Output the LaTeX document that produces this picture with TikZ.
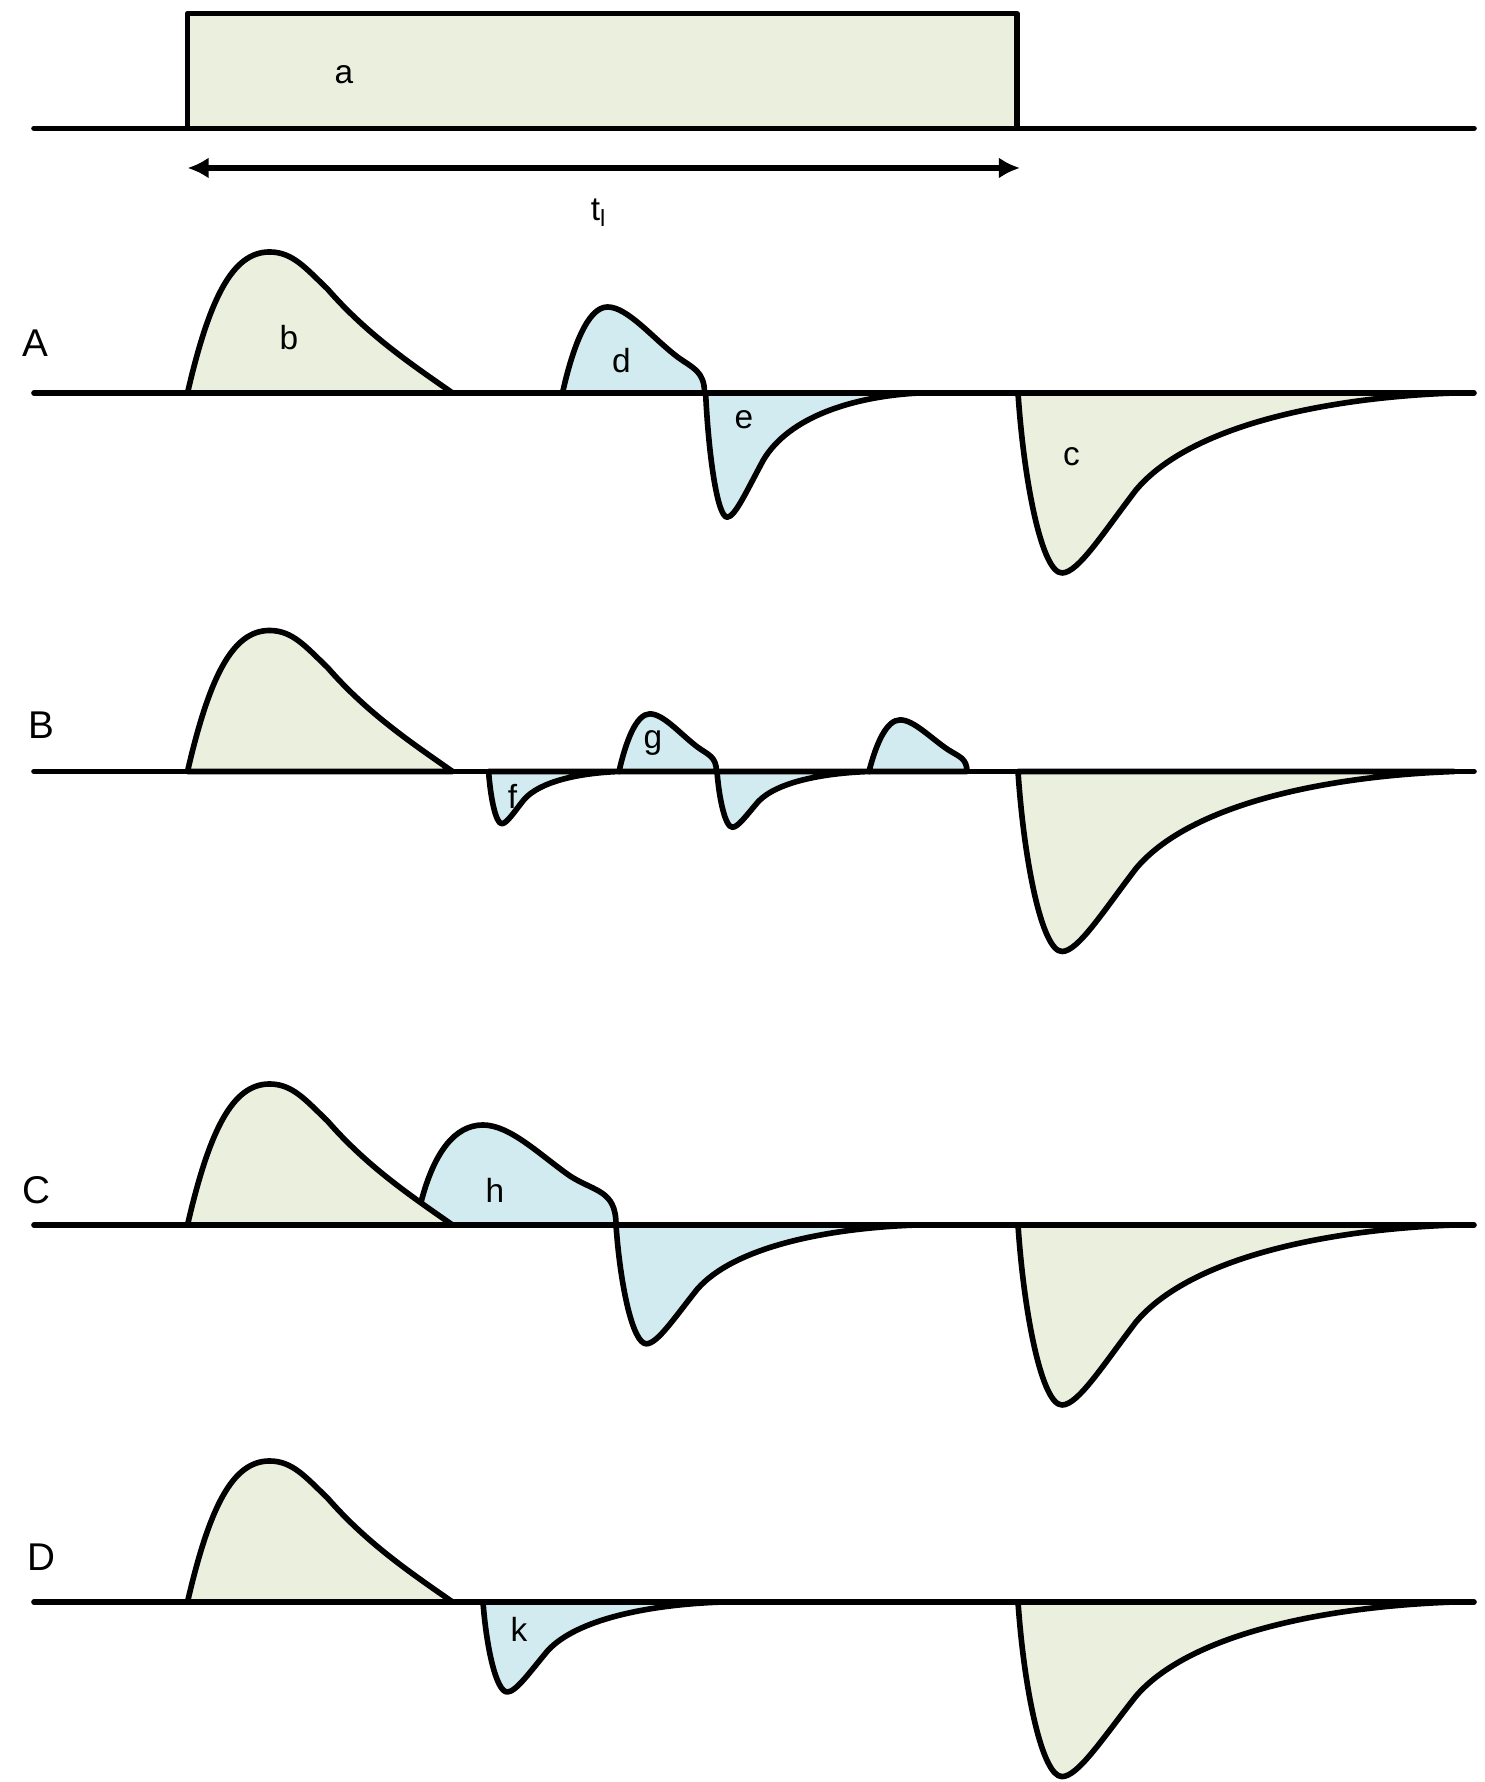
\documentclass[tikz,border=0pt]{standalone}
\usepackage{fontspec}
\setmainfont{Liberation Sans}
\usepackage{tikz}
\usetikzlibrary{arrows.meta}
\definecolor{pulsegreen}{RGB}{235,240,222}
\definecolor{dipblue}{RGB}{210,235,240}
\tikzset{
  outline/.style={draw=black, line width=1.6pt, line join=round},
  axisline/.style={black, line width=1.6pt, line cap=round},
  lbl/.style={font=\fontsize{9.5}{11}\selectfont, inner sep=0pt},
  rowlbl/.style={font=\fontsize{11}{13}\selectfont, inner sep=0pt},
  dimarrow/.style={{Latex[length=6pt,width=6pt]}-{Latex[length=6pt,width=6pt]}, line width=1.6pt},
  pics/pulse/.style={code={
    \draw[outline, fill=pulsegreen] (0,0) .. controls (22,95) and (45,141) .. (82,141)
      .. controls (105,141) and (118,125) .. (140,104)
      .. controls (180,58) and (225,28) .. (265,0) -- cycle;
  }},
  pics/spike/.style={code={
    \draw[outline, fill=dipblue] (0,0) .. controls (10,45) and (25,86) .. (45,86)
      .. controls (65,86) and (90,55) .. (115,36)
      .. controls (130,25) and (142,22) .. (142,0) -- cycle;
  }},
  pics/tail/.style={code={
    \draw[outline, fill=#1] (0,0) .. controls (6,-90) and (24,-180) .. (44,-180)
      .. controls (60,-180) and (85,-140) .. (118,-97)
      .. controls (170,-35) and (300,-5) .. (436,0) -- cycle;
  }}
}
\begin{document}
\begin{tikzpicture}[x=0.01cm, y=0.01cm]
  \useasboundingbox (0,0) rectangle (1484,1782);

  % Light pulse and its duration
  \draw[outline, fill=pulsegreen] (187.5,1653.6) rectangle (1017,1768.4);
  \draw[axisline] (34,1653.6) -- (1474,1653.6);
  \node[lbl] (a) at (344,1707) {a};
  \coordinate (tl start) at (187.5,1614);
  \coordinate (tl end) at (1020,1614);
  \draw[dimarrow] (tl start) -- (tl end);
  \node[lbl] (tl) at (599,1569.5) {t\textsubscript{l}};

  % Row A
  \node[rowlbl] (A) at (35,1439) {A};
  \pic at (187.5,1389) {pulse};
  \pic at (562.5,1389) {spike};
  \pic[xscale=0.49, yscale=0.69] at (705.6,1389) {tail=dipblue};
  \pic at (1018,1389) {tail=pulsegreen};
  \draw[axisline] (34,1389) -- (1474,1389);
  \node[lbl] (b) at (289,1444.5) {b};
  \node[lbl] (d) at (621.5,1421) {d};
  \node[lbl] (e) at (744,1362) {e};
  \node[lbl] (c) at (1071.5,1325) {c};

  % Row B
  \node[rowlbl] (B) at (41,1057) {B};
  \pic at (187.5,1010.5) {pulse};
  \pic[xscale=0.30, yscale=0.29] at (488.6,1010.5) {tail=dipblue};
  \pic[xscale=0.686, yscale=0.67] at (619,1010.5) {spike};
  \pic[xscale=0.35, yscale=0.31] at (717,1010.5) {tail=dipblue};
  \pic[xscale=0.69, yscale=0.6] at (869,1010.5) {spike};
  \pic at (1018,1010.5) {tail=pulsegreen};
  \draw[axisline] (34,1010.5) -- (1474,1010.5);
  \node[lbl] (f) at (512.5,985.5) {f};
  \node[lbl] (g) at (653,1039) {g};

  % Row C
  \node[rowlbl] (C) at (36,592) {C};
  \fill[dipblue] (421,579.7) .. controls (434,630) and (455,657) .. (483,657)
    .. controls (510,657) and (540,627) .. (570,606)
    .. controls (595,590) and (616,592) .. (616,557) -- (400,557) -- cycle;
  \pic at (187.5,557) {pulse};
  \draw[outline] (421,579.7) .. controls (434,630) and (455,657) .. (483,657)
    .. controls (510,657) and (540,627) .. (570,606)
    .. controls (595,590) and (616,592) .. (616,557);
  \pic[xscale=0.69, yscale=0.66] at (616,557) {tail=dipblue};
  \pic at (1018,557) {tail=pulsegreen};
  \draw[axisline] (34,557) -- (1474,557);
  \node[lbl] (h) at (495,592) {h};

  % Row D
  \node[rowlbl] (D) at (41,225) {D};
  \pic at (187.5,180) {pulse};
  \pic[xscale=0.55, yscale=0.5] at (483,180) {tail=dipblue};
  \pic[yscale=0.97] at (1018,180) {tail=pulsegreen};
  \draw[axisline] (34,180) -- (1474,180);
  \node[lbl] (k) at (519,152.5) {k};
\end{tikzpicture}
\end{document}
